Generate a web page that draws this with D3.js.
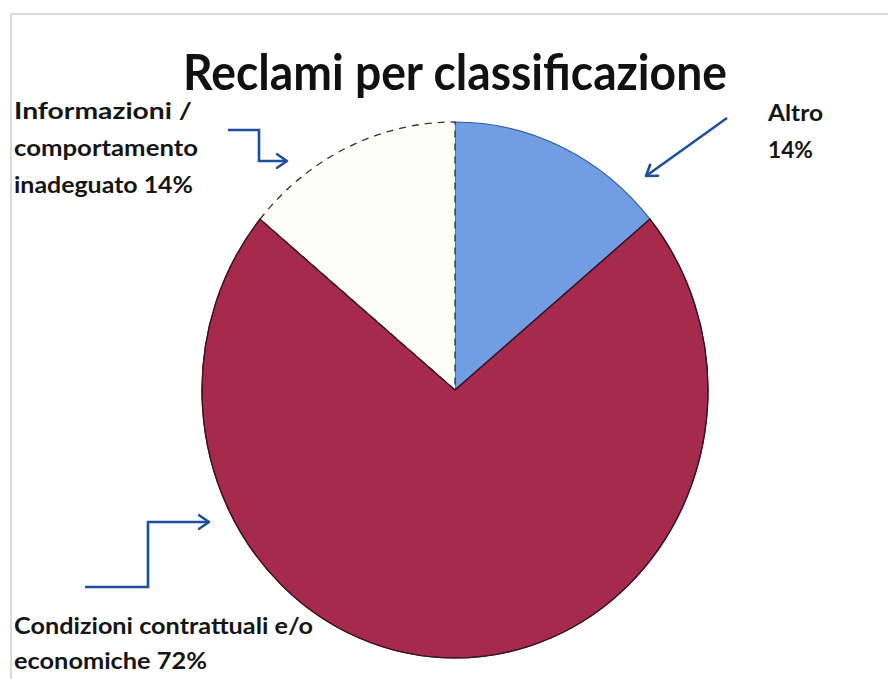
<!DOCTYPE html>
<html><head><meta charset="utf-8">
<script src="https://cdn.jsdelivr.net/npm/d3@7"></script>
<style>body{margin:0;background:#fff}svg{display:block}</style>
</head><body>
<svg id="c" width="888" height="679"></svg>
<script>
const categories = ["Altro", "Condizioni contrattuali e/o economiche", "Informazioni / comportamento inadeguato"];
const values = [14, 72, 14];
const colors = ["#719ee2", "#a52a4b", "#fdfdf7"];
const labelLines = [["Altro", "14%"], ["Condizioni contrattuali e/o", "economiche 72%"], ["Informazioni /", "comportamento", "inadeguato 14%"]];

const svg = d3.select("#c");
const W = 888, H = 679;
svg.append("rect").attr("width", W).attr("height", H).attr("fill", "#fff");
// frame
svg.append("path").attr("d", "M11,679 L11,14 L888,14").attr("fill", "none").attr("stroke", "#cfcfcf").attr("stroke-width", 1.5);

svg.append("text").attr("x", 455).attr("y", 90).attr("text-anchor", "middle")
  .attr("font-family", "Lato, 'Open Sans', sans-serif").attr("font-weight", 700)
  .attr("font-size", 50).attr("fill", "#111")
  .attr("textLength", 544).attr("lengthAdjust", "spacingAndGlyphs")
  .text("Reclami per classificazione");

const cx = 455, cy = 390, ry = 268, rx = 253;
const pie = d3.pie().sort(null).value(d => d)(values);
const arc = d3.arc().innerRadius(0).outerRadius(ry);
const g = svg.append("g").attr("transform", `translate(${cx},${cy}) scale(${rx / ry},1)`);
g.selectAll("path.s").data(pie).join("path").attr("class", "s")
  .attr("d", arc)
  .attr("fill", (d, i) => colors[i])
  .attr("stroke", (d, i) => i === 0 ? "#2f5e9e" : i === 1 ? "#3a1222" : "#333")
  .attr("stroke-width", (d, i) => i === 2 ? 1.3 : 1.2)
  .attr("stroke-dasharray", (d, i) => i === 2 ? "7,6" : null)
  .attr("vector-effect", "non-scaling-stroke");
// redraw red edge on top for crisp border
g.append("path").datum(pie[1]).attr("d", arc).attr("fill", "none")
  .attr("stroke", "#3a1222").attr("stroke-width", 1.2).attr("vector-effect", "non-scaling-stroke");

// labels
const lab = [
  {i: 0, x: 768, y: 121, widths: [55, 45]},
  {i: 1, x: 14, y: 634, widths: [299, 193]},
  {i: 2, x: 14, y: 119, widths: [178, 184, 179]}
];
const lineH = [37, 35, 37];
lab.forEach(l => {
  labelLines[l.i].forEach((t, k) => {
    svg.append("text").attr("x", l.x).attr("y", l.y + k * lineH[l.i])
      .attr("font-family", "Lato, 'Open Sans', sans-serif").attr("font-weight", 700)
      .attr("font-size", 23).attr("fill", "#151515")
      .attr("textLength", l.widths[k]).attr("lengthAdjust", "spacingAndGlyphs")
      .text(t);
  });
});

// arrows
const blue = "#1d4f9e";
const line = d3.line();
function arrow(pts) {
  svg.append("path").attr("d", line(pts)).attr("fill", "none").attr("stroke", blue)
    .attr("stroke-width", 2.6).attr("stroke-linejoin", "miter");
  const [x1, y1] = pts[pts.length - 2], [x2, y2] = pts[pts.length - 1];
  const a = Math.atan2(y2 - y1, x2 - x1), L = 12, sp = 0.6;
  const h = [[x2 - L * Math.cos(a - sp), y2 - L * Math.sin(a - sp)], [x2, y2], [x2 - L * Math.cos(a + sp), y2 - L * Math.sin(a + sp)]];
  svg.append("path").attr("d", line(h)).attr("fill", "none").attr("stroke", blue)
    .attr("stroke-width", 2.6).attr("stroke-linecap", "round").attr("stroke-linejoin", "round");
}
arrow([[228, 130], [259, 130], [259, 161], [287, 161]]);
arrow([[727, 118], [646, 176]]);
arrow([[85, 587], [148, 587], [148, 522], [209, 522]]);
</script>
</body></html>
